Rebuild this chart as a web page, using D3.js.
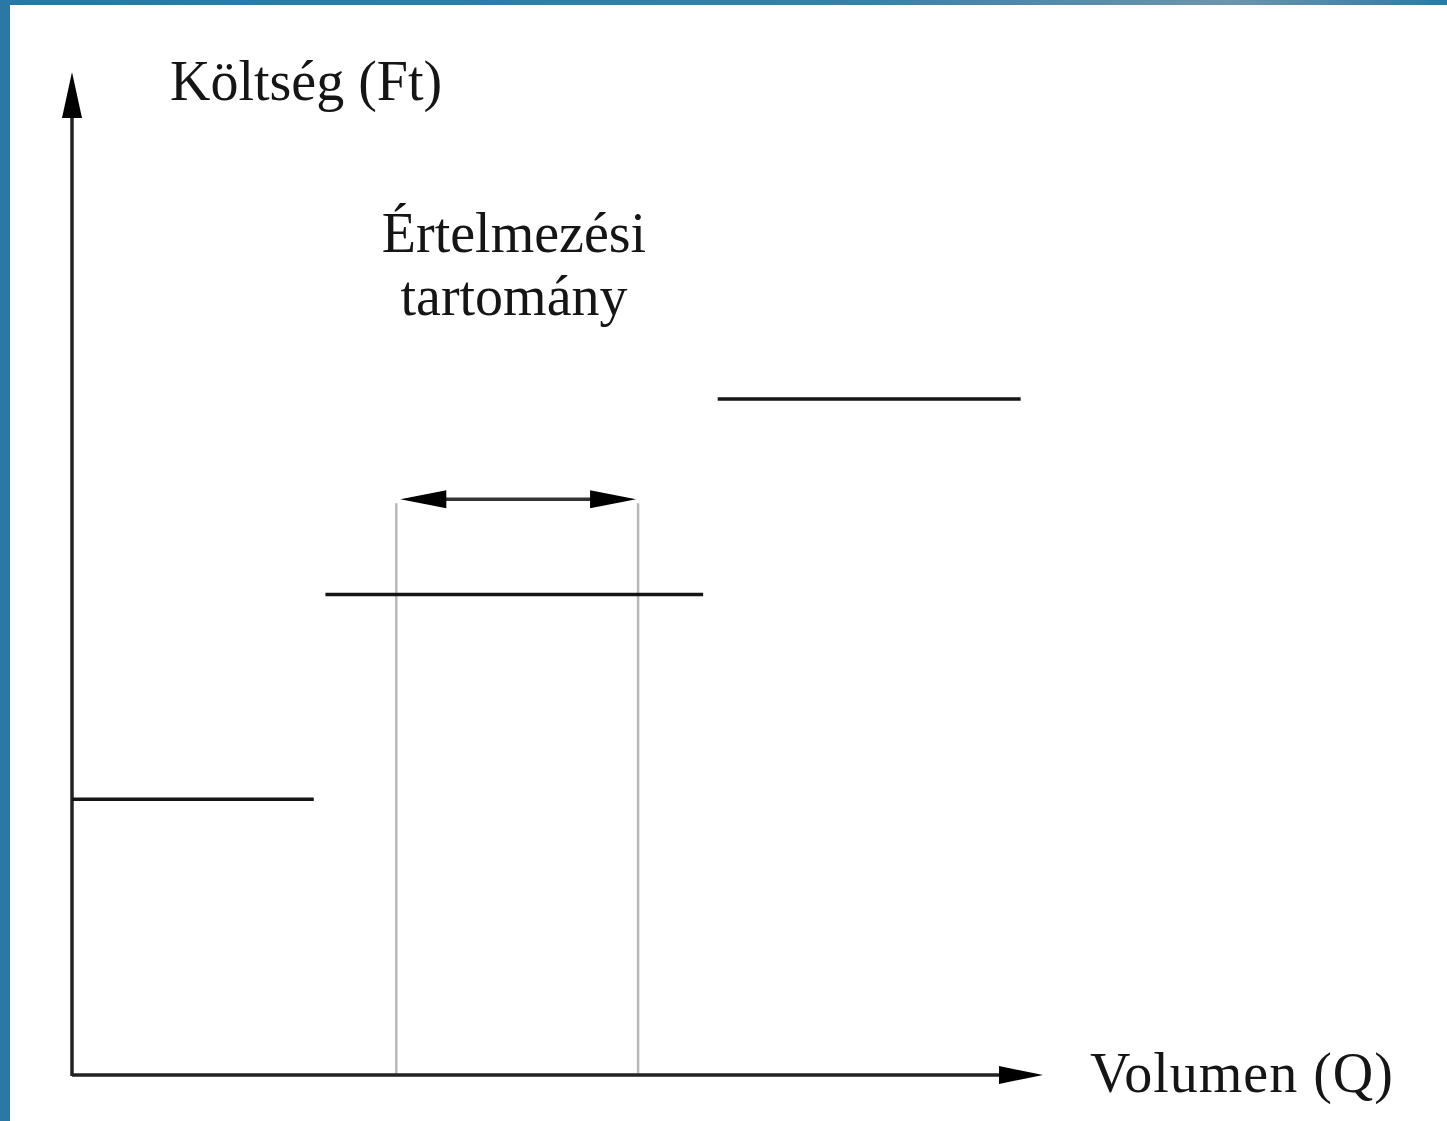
<!DOCTYPE html>
<html>
<head>
<meta charset="utf-8">
<script src="https://cdn.jsdelivr.net/npm/d3@7"></script>
<style>
  html, body { margin: 0; padding: 0; background: #fff; }
  svg { display: block; }
</style>
</head>
<body>
<svg id="chart" width="1447" height="1121"></svg>
<script>
// step cost levels (Q from, Q to, cost)
const stepFrom = [0, 261, 665];
const stepTo = [249, 650, 977];
const stepCost = [275, 479, 674];

// relevant range (Értelmezési tartomány)
const rangeFrom = 334;
const rangeTo = 583;
const rangeArrowY = 574;
const rangeLineTop = 570;

const axisMax = 1000;
const yLabel = "Költség (Ft)";
const xLabel = "Volumen (Q)";
const rangeLabel = ["Értelmezési", "tartomány"];

const W = 1447, H = 1121;
const svg = d3.select("#chart");

// frame (blue border on top and left)
const defs = svg.append("defs");
const grad = defs.append("linearGradient").attr("id", "topgrad")
    .attr("x1", "0%").attr("x2", "100%");
grad.append("stop").attr("offset", "0%").attr("stop-color", "#2a77a4");
grad.append("stop").attr("offset", "60%").attr("stop-color", "#3b7fa8");
grad.append("stop").attr("offset", "85%").attr("stop-color", "#6d95ac");
grad.append("stop").attr("offset", "100%").attr("stop-color", "#2d78a5");
svg.append("rect").attr("x", 0).attr("y", 0).attr("width", W).attr("height", 5).attr("fill", "url(#topgrad)");
svg.append("rect").attr("x", 0).attr("y", 0).attr("width", 10).attr("height", H).attr("fill", "#2a78a5");

const x = d3.scaleLinear().domain([0, axisMax]).range([72, 1043]);
const y = d3.scaleLinear().domain([0, axisMax]).range([1075, 72]);

const ink = "#151515";
const font = "'Liberation Serif', 'Times New Roman', serif";

// grey verticals marking the relevant range
svg.selectAll("line.range")
    .data([rangeFrom, rangeTo])
    .enter().append("line")
    .attr("class", "range")
    .attr("x1", d => x(d)).attr("x2", d => x(d))
    .attr("y1", y(0)).attr("y2", y(rangeLineTop))
    .attr("stroke", "#b9b9b9").attr("stroke-width", 2.5);

// axes
svg.append("line")
    .attr("x1", x(0)).attr("x2", x(axisMax) - 30)
    .attr("y1", y(0)).attr("y2", y(0))
    .attr("stroke", "#222").attr("stroke-width", 3.5);
svg.append("line")
    .attr("x1", x(0)).attr("x2", x(0))
    .attr("y1", y(0) + 1).attr("y2", y(axisMax) + 30)
    .attr("stroke", "#222").attr("stroke-width", 3.5);

// axis arrow heads
const xt = x(axisMax), yx = y(0);
svg.append("path")
    .attr("d", `M${xt},${yx} L${xt - 44},${yx - 9} L${xt - 44},${yx + 9} Z`)
    .attr("fill", "#000");
const yt = y(axisMax), xy = x(0);
svg.append("path")
    .attr("d", `M${xy},${yt} L${xy - 10},${yt + 46} L${xy + 10},${yt + 46} Z`)
    .attr("fill", "#000");

// step cost lines
const steps = stepCost.map((c, i) => ({from: stepFrom[i], to: stepTo[i], cost: c}));
svg.selectAll("line.step")
    .data(steps)
    .enter().append("line")
    .attr("class", "step")
    .attr("x1", d => x(d.from)).attr("x2", d => x(d.to))
    .attr("y1", d => y(d.cost)).attr("y2", d => y(d.cost))
    .attr("stroke", ink).attr("stroke-width", 3.5);

// double arrow over the relevant range
const ax1 = x(rangeFrom) + 4, ax2 = x(rangeTo) - 2, ay = y(rangeArrowY);
svg.append("line")
    .attr("x1", ax1 + 40).attr("x2", ax2 - 40)
    .attr("y1", ay).attr("y2", ay)
    .attr("stroke", "#333").attr("stroke-width", 3.5);
svg.append("path")
    .attr("d", `M${ax1},${ay} L${ax1 + 46},${ay - 9} L${ax1 + 46},${ay + 9} Z`)
    .attr("fill", "#000");
svg.append("path")
    .attr("d", `M${ax2},${ay} L${ax2 - 46},${ay - 9} L${ax2 - 46},${ay + 9} Z`)
    .attr("fill", "#000");

// labels
svg.append("text")
    .attr("x", 170).attr("y", 100)
    .attr("font-family", font).attr("font-size", 56)
    .attr("fill", ink)
    .text(yLabel);

svg.append("text")
    .attr("x", 1090).attr("y", 1092)
    .attr("font-family", font).attr("font-size", 56)
    .attr("letter-spacing", 1)
    .attr("fill", ink)
    .text(xLabel);

svg.selectAll("text.range")
    .data(rangeLabel)
    .enter().append("text")
    .attr("class", "range")
    .attr("x", 514)
    .attr("y", (d, i) => 252 + i * 63)
    .attr("text-anchor", "middle")
    .attr("font-family", font).attr("font-size", 56)
    .attr("fill", ink)
    .text(d => d);
</script>
</body>
</html>
